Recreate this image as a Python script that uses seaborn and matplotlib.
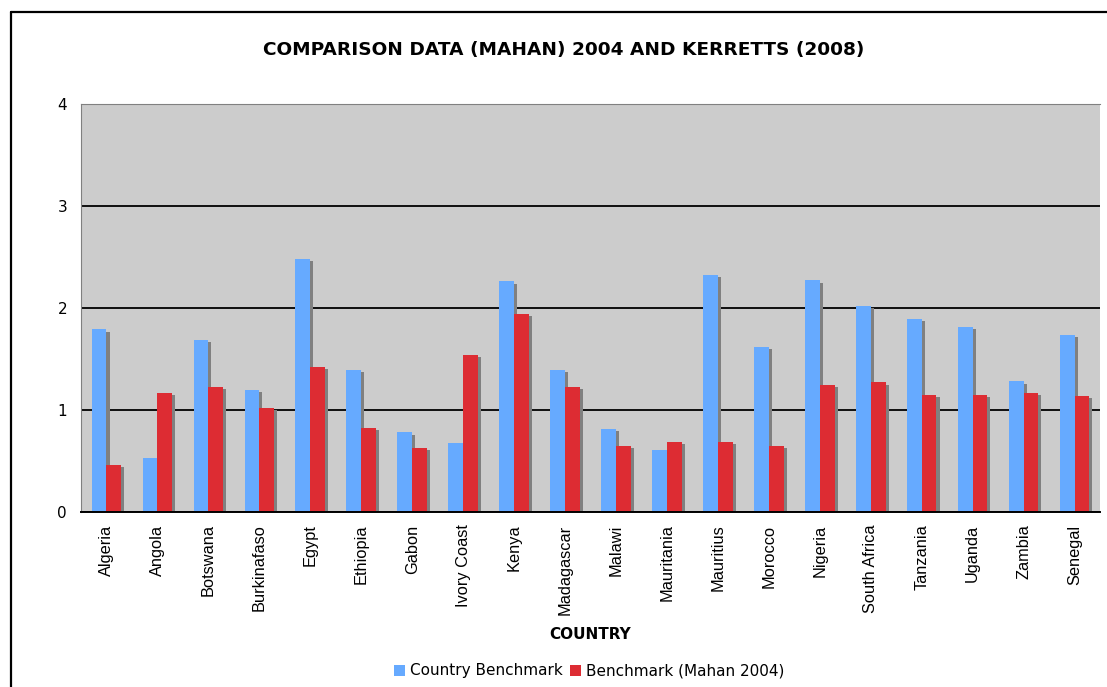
import numpy as np
import pandas as pd
import seaborn as sns
import matplotlib.pyplot as plt
import matplotlib.patheffects as pe
from matplotlib.lines import Line2D
from matplotlib.patches import Patch

# Values
countries = ['Algeria', 'Angola', 'Botswana', 'Burkinafaso', 'Egypt', 'Ethiopia',
             'Gabon', 'Ivory Coast', 'Kenya', 'Madagascar', 'Malawi', 'Mauritania',
             'Mauritius', 'Morocco', 'Nigeria', 'South Africa', 'Tanzania', 'Uganda',
             'Zambia', 'Senegal']
country_benchmark = [1.79, 0.53, 1.69, 1.20, 2.48, 1.39, 0.78, 0.68, 2.26, 1.39,
                     0.81, 0.61, 2.32, 1.62, 2.27, 2.02, 1.89, 1.81, 1.28, 1.74]
mahan_benchmark = [0.46, 1.17, 1.23, 1.02, 1.42, 0.82, 0.63, 1.54, 1.94, 1.23,
                   0.65, 0.69, 0.69, 0.65, 1.25, 1.27, 1.15, 1.15, 1.17, 1.14]
series_names = ['Country Benchmark', 'Benchmark (Mahan 2004)']
series_colors = ['#66AAFF', '#DD2C33']
y_ticks = [0, 1, 2, 3, 4]

df = pd.DataFrame({
    'country': countries * 2,
    'value': country_benchmark + mahan_benchmark,
    'series': [series_names[0]] * len(countries) + [series_names[1]] * len(countries),
})

sns.set_style('white')
plt.rcParams['font.family'] = ['DejaVu Sans']
plt.rcParams['text.color'] = 'black'
plt.rcParams['axes.labelcolor'] = 'black'
plt.rcParams['xtick.color'] = 'black'
plt.rcParams['ytick.color'] = 'black'

W, H = 1107, 687
fig = plt.figure(figsize=(W / 100, H / 100), dpi=100)
ax = fig.add_axes([81 / W, 1 - 512 / H, (1100 - 81) / W, (512 - 104) / H])
ax.set_facecolor('#CCCCCC')

sns.barplot(data=df, x='country', y='value', hue='series', hue_order=series_names,
            palette=series_colors, width=0.58, gap=0, saturation=1,
            edgecolor='none', linewidth=0, ax=ax)

# drop shadow on each bar, like the original spreadsheet chart
shadow = [pe.SimplePatchShadow(offset=(2.2, -1.5), shadow_rgbFace='#808080', alpha=1),
          pe.Normal()]
for bar in ax.patches:
    bar.set_path_effects(shadow)

ax.set_ylim(0, 4)
ax.set_xlim(-0.5, len(countries) - 0.5)
ax.set_yticks(y_ticks)
ax.yaxis.grid(True, color='black', linewidth=1.3)
ax.set_axisbelow(True)

for side in ['top', 'left', 'right']:
    ax.spines[side].set_color('#808080')
ax.spines['right'].set_visible(False)
ax.spines['bottom'].set_color('black')
ax.spines['bottom'].set_linewidth(1.4)

ax.set_xticks(range(len(countries)))
ax.set_xticklabels(countries, rotation=90, fontsize=11.8, family='Liberation Sans')
ax.set_xticks(np.arange(-0.5, len(countries)), minor=True)
ax.tick_params(axis='x', which='major', length=0, pad=9)
ax.tick_params(axis='x', which='minor', length=5, width=1, color='black', direction='out')
ax.tick_params(axis='y', length=5, width=1, color='#808080', direction='out',
               labelsize=11, pad=5)

ax.set_xlabel('COUNTRY', fontsize=11, fontweight='bold', labelpad=9)
ax.set_ylabel('')
fig.text(564 / W, 1 - 50 / H, 'COMPARISON DATA (MAHAN) 2004 AND KERRETTS (2008)',
         ha='center', va='center', fontsize=13.3, fontweight='bold')

ax.get_legend().remove()
handles = [Patch(facecolor=c, edgecolor='none', label=n)
           for c, n in zip(series_colors, series_names)]
fig.legend(handles=handles, loc='center', bbox_to_anchor=(589 / W, 1 - 671 / H),
           ncol=2, frameon=False, fontsize=11, handlelength=0.75, handleheight=0.75,
           handletextpad=0.3, columnspacing=0.5)

# chart border (only left and top edges fall inside the image)
fig.add_artist(Line2D([11 / W, 11 / W], [0, 1 - 12 / H], transform=fig.transFigure,
                      color='black', linewidth=1.6))
fig.add_artist(Line2D([11 / W, 1], [1 - 12 / H, 1 - 12 / H], transform=fig.transFigure,
                      color='black', linewidth=1.6))

fig.savefig('out.png', dpi=100)
